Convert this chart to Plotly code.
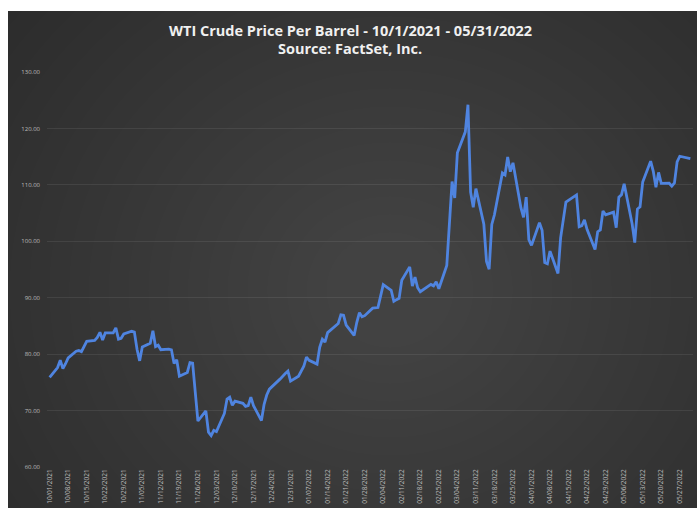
import plotly.graph_objects as go
import pandas as pd

title_line1 = "WTI Crude Price Per Barrel - 10/1/2021 - 05/31/2022"
title_line2 = "Source: FactSet, Inc."

dates = [
    "2021-10-01","2021-10-04","2021-10-05","2021-10-06","2021-10-07","2021-10-08",
    "2021-10-11","2021-10-12","2021-10-13","2021-10-14","2021-10-15",
    "2021-10-18","2021-10-19","2021-10-20","2021-10-21","2021-10-22",
    "2021-10-25","2021-10-26","2021-10-27","2021-10-28","2021-10-29",
    "2021-11-01","2021-11-02","2021-11-03","2021-11-04","2021-11-05",
    "2021-11-08","2021-11-09","2021-11-10","2021-11-11","2021-11-12",
    "2021-11-15","2021-11-16","2021-11-17","2021-11-18","2021-11-19",
    "2021-11-22","2021-11-23","2021-11-24","2021-11-26",
    "2021-11-29","2021-11-30","2021-12-01","2021-12-02","2021-12-03",
    "2021-12-06","2021-12-07","2021-12-08","2021-12-09","2021-12-10",
    "2021-12-13","2021-12-14","2021-12-15","2021-12-16","2021-12-17",
    "2021-12-20","2021-12-21","2021-12-22","2021-12-23",
    "2021-12-27","2021-12-28","2021-12-29","2021-12-30","2021-12-31",
    "2022-01-03","2022-01-04","2022-01-05","2022-01-06","2022-01-07",
    "2022-01-10","2022-01-11","2022-01-12","2022-01-13","2022-01-14",
    "2022-01-18","2022-01-19","2022-01-20","2022-01-21",
    "2022-01-24","2022-01-25","2022-01-26","2022-01-27","2022-01-28",
    "2022-01-31","2022-02-01","2022-02-02","2022-02-03","2022-02-04",
    "2022-02-07","2022-02-08","2022-02-09","2022-02-10","2022-02-11",
    "2022-02-14","2022-02-15","2022-02-16","2022-02-17","2022-02-18",
    "2022-02-22","2022-02-23","2022-02-24","2022-02-25",
    "2022-02-28","2022-03-01","2022-03-02","2022-03-03","2022-03-04",
    "2022-03-07","2022-03-08","2022-03-09","2022-03-10","2022-03-11",
    "2022-03-14","2022-03-15","2022-03-16","2022-03-17","2022-03-18",
    "2022-03-21","2022-03-22","2022-03-23","2022-03-24","2022-03-25",
    "2022-03-28","2022-03-29","2022-03-30","2022-03-31","2022-04-01",
    "2022-04-04","2022-04-05","2022-04-06","2022-04-07","2022-04-08",
    "2022-04-11","2022-04-12","2022-04-13","2022-04-14",
    "2022-04-18","2022-04-19","2022-04-20","2022-04-21","2022-04-22",
    "2022-04-25","2022-04-26","2022-04-27","2022-04-28","2022-04-29",
    "2022-05-02","2022-05-03","2022-05-04","2022-05-05","2022-05-06",
    "2022-05-09","2022-05-10","2022-05-11","2022-05-12","2022-05-13",
    "2022-05-16","2022-05-17","2022-05-18","2022-05-19","2022-05-20",
    "2022-05-23","2022-05-24","2022-05-25","2022-05-26","2022-05-27",
    "2022-05-31",
]

prices = [
    75.88,77.62,78.93,77.43,78.30,79.35,
    80.52,80.64,80.44,81.31,82.28,
    82.44,82.96,83.87,82.50,83.76,
    83.76,84.65,82.66,82.81,83.57,
    84.05,83.91,80.86,78.81,81.27,
    81.93,84.15,81.34,81.59,80.79,
    80.88,80.76,78.36,79.01,76.10,
    76.75,78.50,78.39,68.15,
    69.95,66.18,65.57,66.50,66.26,
    69.49,72.05,72.36,70.94,71.67,
    71.29,70.73,70.87,72.38,70.86,
    68.23,71.12,72.76,73.79,
    75.57,75.98,76.56,76.99,75.21,
    76.08,76.99,77.85,79.46,78.90,
    78.23,81.22,82.64,82.12,83.82,
    85.43,86.96,86.90,85.14,
    83.31,85.60,87.35,86.61,86.82,
    88.15,88.20,88.26,90.27,92.31,
    91.32,89.36,89.66,89.88,93.10,
    95.46,92.07,93.66,91.76,91.07,
    92.35,92.10,92.81,91.59,
    95.72,103.41,110.60,107.67,115.68,
    119.40,124.20,108.70,106.02,109.33,
    103.01,96.44,95.04,102.98,104.70,
    112.12,111.76,114.93,112.34,113.90,
    105.96,104.24,107.82,100.28,99.27,
    103.28,101.96,96.23,96.03,98.26,
    94.29,100.60,104.25,106.95,
    108.21,102.56,102.75,103.79,102.07,
    98.54,101.70,102.02,105.36,104.69,
    105.17,102.41,107.81,108.26,110.20,
    103.09,99.76,105.71,106.13,110.49,
    114.20,112.40,109.59,112.21,110.28,
    110.29,109.77,110.33,114.09,115.07,
    114.67,
]

y_ticks = [60, 70, 80, 90, 100, 110, 120, 130]
y_tick_labels = ["60.00", "70.00", "80.00", "90.00", "100.00", "110.00", "120.00", "130.00"]

x_tick_dates = pd.date_range("2021-10-01", "2022-05-27", freq="7D")
x_tick_labels = [d.strftime("%m/%d/%Y") for d in x_tick_dates]

W, H = 697, 508
L, R, T, B = 47, 4, 72, 41
pw, ph = W - L - R, H - T - B

def px_to_paper_x(px):
    return (px - L) / pw

def px_to_paper_y(py):
    return (H - B - py) / ph

fig = go.Figure()
fig.add_trace(go.Scatter(
    x=pd.to_datetime(dates), y=prices, mode="lines",
    line=dict(color="#4f84e0", width=2.8),
    hoverinfo="x+y", showlegend=False,
))

shapes = []
# dark background panel
shapes.append(dict(type="rect", xref="paper", yref="paper", layer="below",
                   x0=px_to_paper_x(8), x1=px_to_paper_x(700),
                   y0=px_to_paper_y(11), y1=px_to_paper_y(512),
                   fillcolor="#242424", line=dict(width=0)))
# smooth radial-ish gradient
cx, cy = 390, 290
n = 30
for i in range(n):
    r = 580 - i * 18
    shapes.append(dict(type="circle", xref="paper", yref="paper", layer="below",
                       x0=px_to_paper_x(cx - r * 1.1), x1=px_to_paper_x(cx + r * 1.1),
                       y0=px_to_paper_y(cy + r), y1=px_to_paper_y(cy - r),
                       fillcolor="#ffffff", opacity=0.009, line=dict(width=0)))

fig.update_layout(
    width=W, height=H,
    margin=dict(l=L, r=R, t=T, b=B, pad=0),
    paper_bgcolor="white",
    plot_bgcolor="rgba(0,0,0,0)",
    shapes=shapes,
    font=dict(family="Open Sans, sans-serif", color="#c8c8c8"),
    annotations=[
        dict(text="<b>" + title_line1 + "</b>", xref="paper", yref="paper",
             x=px_to_paper_x(350), y=px_to_paper_y(30), xanchor="center", yanchor="middle",
             showarrow=False, font=dict(size=14.5, color="#f0f0f0", family="Open Sans, sans-serif")),
        dict(text="<b>" + title_line2 + "</b>", xref="paper", yref="paper",
             x=px_to_paper_x(350), y=px_to_paper_y(49), xanchor="center", yanchor="middle",
             showarrow=False, font=dict(size=14.5, color="#f0f0f0", family="Open Sans, sans-serif")),
    ],
    xaxis=dict(
        type="date",
        range=["2021-09-30", "2022-06-01"],
        tickmode="array", tickvals=x_tick_dates, ticktext=x_tick_labels,
        tickangle=-90, tickfont=dict(size=6.5, color="#bdbdbd"),
        showgrid=False, zeroline=False, showline=False, ticks="",
    ),
    yaxis=dict(
        range=[60, 130],
        tickmode="array", tickvals=y_ticks, ticktext=y_tick_labels,
        tickfont=dict(size=6, color="#bdbdbd"),
        showgrid=True, gridcolor="rgba(255,255,255,0.08)", gridwidth=1,
        zeroline=False, showline=False, ticks="", ticklabelstandoff=6,
    ),
)

fig.write_html("out.html")
